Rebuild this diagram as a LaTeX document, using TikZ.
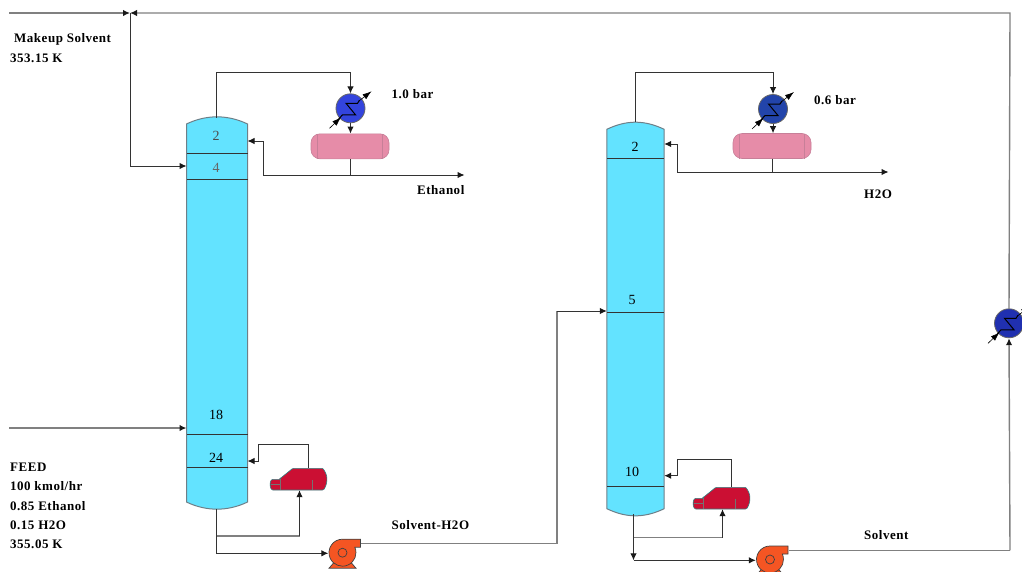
\documentclass[tikz,border=0pt]{standalone}
\usepackage{fontspec}
\setmainfont{Liberation Serif}
\usetikzlibrary{arrows.meta}
\definecolor{colcyan}{HTML}{63E3FF}
\definecolor{coledge}{HTML}{6E7F88}
\definecolor{drumpink}{HTML}{E68CA8}
\definecolor{drumedge}{HTML}{C77F98}
\definecolor{rebred}{HTML}{CB0F33}
\definecolor{pumporange}{HTML}{F55523}
\definecolor{hxblue}{HTML}{3344DD}
\definecolor{hxnavy}{HTML}{2244AA}
\definecolor{hxdeep}{HTML}{2030B0}
\tikzset{
    pipe/.style={draw=black!80, line width=1pt},
    pipegray/.style={draw=black!50, line width=1.4pt},
    tip/.style={-{Latex[length=7pt,width=6.5pt,color=black!90]}},
    colbody/.style={minimum width=#1, minimum height=10pt, inner sep=0pt},
    colshell/.style={fill=colcyan, draw=coledge, line width=1pt},
    traynum/.style={font=\fontsize{14}{14}\selectfont, inner sep=0pt},
    tag/.style={font=\bfseries\fontsize{13}{19.25}\selectfont\addfontfeature{LetterSpace=4}, align=left, anchor=west, inner sep=0pt},
    hxnode/.style={circle, draw=black!60, line width=0.8pt, minimum size=29pt, inner sep=0pt},
    drum/.style={rectangle, rounded corners=9pt, fill=drumpink, draw=drumedge, line width=0.6pt, minimum width=78pt, minimum height=25pt, inner sep=0pt},
    rebnode/.style={minimum width=58pt, minimum height=22pt, inner sep=0pt},
    pumpnode/.style={minimum width=28pt, minimum height=28pt, inner sep=0pt},
    hxmark/.pic={
        \draw[black, line width=1pt] (-12,11) -- (-8,6.5) -- (5,6.5) -- (-4.5,-5) -- (7,-5) -- (9,-8);
        \draw[black, line width=0.6pt, -{Latex[length=9pt,width=6pt]}] (-21,20) -- (-9.5,9);
        \draw[black, line width=0.6pt, -{Latex[length=9pt,width=6pt]}] (8,-7) -- (21,-17);
    },
    drummark/.pic={
        \draw[drumedge, line width=0.8pt] (-32.7,-12.5) -- (-32.7,12.5) (32.7,-12.5) -- (32.7,12.5);
    },
    rebmark/.pic={
        \draw[fill=rebred, draw=teal!60!gray, line width=0.6pt, rounded corners=1pt]
            (-19.3,-0.5) -- (-6.7,-10.7) -- (23.3,-10.7) .. controls (26,-7) and (27.5,-3) .. (27.3,0)
            .. controls (27.5,4) and (26,8) .. (24,11) -- (-27.7,11) -- (-29.3,8) -- (-29.3,3) -- (-27.7,0.3) -- (-19.3,0.3) -- cycle;
        \draw[black!55, line width=0.8pt] (-19.3,0.3) -- (-19.3,11) (-29,5.7) -- (-19.3,5.7) (13,1) -- (13,11);
    },
    pumpmark/.pic={
        \fill[pumporange, draw=black!75, line width=0.7pt] (-7,8) -- (7,8) -- (13.5,15.5) -- (-13.5,15.5) -- cycle;
        \draw[fill=pumporange, draw=black!75, line width=0.7pt]
            (0,-13.5) -- (18,-13.5) -- (18,-5.5) -- (12.3,-5.5) arc (-24:270:13.5) -- cycle;
        \draw[black!75, line width=0.7pt] (0,0) circle (4.5);
    },
}
\newcommand{\colshape}[1]{%
    \draw[colshell] (#1.north west) .. controls +(20,-9.5) and +(-20,-9.5) .. (#1.north east)
        -- (#1.south east) .. controls +(-20,9.5) and +(20,9.5) .. (#1.south west) -- cycle;
}
\begin{document}
\begin{tikzpicture}[x=1pt, y=-1pt]
    \useasboundingbox (0,0) rectangle (1022,571);
    \clip (0,0) rectangle (1022,571);

    % columns
    \node[colbody=60.6pt, minimum height=377.7pt] (col1) at (217,313) {};
    \node[colbody=57pt, minimum height=379pt] (col2) at (635.5,319) {};
    \colshape{col1}
    \colshape{col2}
    \foreach \ty in {153,179,434,467}
        \draw[pipe] (col1.west |- 0,\ty) -- (col1.east |- 0,\ty);
    \foreach \ty in {158,312,486}
        \draw[pipe] (col2.west |- 0,\ty) -- (col2.east |- 0,\ty);
    \node[traynum, text=black!70] (a2) at (216,136) {2};
    \node[traynum, text=black!60] (a4) at (216,167.5) {4};
    \node[traynum] (a18) at (216,414.5) {18};
    \node[traynum] (a24) at (216,458) {24};
    \node[traynum] (b2) at (635,147) {2};
    \node[traynum] (b5) at (632,299.5) {5};
    \node[traynum] (b10) at (632,472) {10};

    % exchangers
    \node[hxnode, fill=hxblue] (cond1) at (350.5,108.3) {};
    \node[hxnode, fill=hxnavy] (cond2) at (773,109) {};
    \node[hxnode, fill=hxdeep] (cool) at (1009,323.3) {};
    \pic at (cond1) {hxmark};
    \pic at (cond2) {hxmark};
    \pic at (cool) {hxmark};

    % drums, reboilers, pumps
    \node[drum] (drum1) at (350,146.3) {};
    \node[drum] (drum2) at (772,146) {};
    \pic at (drum1) {drummark};
    \pic at (drum2) {drummark};
    \node[rebnode] (reb1) at (299.5,479) {};
    \node[rebnode] (reb2) at (722.5,498) {};
    \pic at (reb1) {rebmark};
    \pic at (reb2) {rebmark};
    \node[pumpnode] (pump1) at (342.5,552.7) {};
    \node[pumpnode] (pump2) at (770,559.5) {};
    \pic at (pump1) {pumpmark};
    \pic at (pump2) {pumpmark};

    % junctions
    \coordinate (top1) at (216.3,117.5);
    \coordinate (top2) at (635,122);
    \coordinate (bot1) at (216.5,509.3);
    \coordinate (bot2) at (633.5,514);
    \coordinate (eth) at (263,175);
    \coordinate (ethend) at (464.5,175);
    \coordinate (wat) at (677,172);
    \coordinate (watend) at (888.5,172);
    \coordinate (makeup) at (130,13);
    \coordinate (feedin) at (9,428);
    \coordinate (makeupin) at (9,13);
    \coordinate (corner) at (1010,13);
    \coordinate (solv1) at (557,311);
    \coordinate (solv2) at (1010,550.3);

    % overheads
    \draw[pipe] (top1) |- (350.5,72) -- (350.5,85);
    \draw[pipe, tip] (350.5,80) -- (cond1.north);
    \draw[pipe, tip] (cond1.south) -- (drum1.north -| cond1.south);
    \draw[pipe] (drum1.south) -- (drum1.south |- eth);
    \draw[pipe, tip] (eth) -- (ethend);
    \draw[pipe, tip] (eth) |- (col1.east |- 0,141);
    \draw[pipe] (top2) |- (773,72) -- (773,85);
    \draw[pipe, tip] (773,80) -- (cond2.north);
    \draw[pipe, tip] (cond2.south) -- (drum2.north -| cond2.south);
    \draw[pipe] (drum2.south) -- (drum2.south |- wat);
    \draw[pipe, tip] (wat) -- (watend);
    \draw[pipe, tip] (wat) |- (col2.east |- 0,144);

    % bottoms col 1
    \draw[pipe, tip] (bot1) |- (pump1.west |- 0,553.3);
    \draw[pipegray] (bot1 |- 0,536) -- (299.5,536);
    \draw[pipe, tip] (299.5,536) -- (reb1.south);
    \draw[pipe] ([xshift=8.5pt]reb1.north) |- (258,444);
    \draw[pipe, tip] (258,444) |- (col1.east |- 0,461);

    % bottoms col 2
    \draw[pipe, tip] (bot2) -- (633.5,560.3);
    \draw[pipe, tip] (633.5,560.3) -- (pump2.west |- 0,560.3);
    \draw[pipegray] (bot2 |- 0,537.7) -- (722.5,537.7);
    \draw[pipe, tip] (722.5,537.7) -- (reb2.south);
    \draw[pipe] ([xshift=8.5pt]reb2.north) |- (677.7,459.3);
    \draw[pipe, tip] (677.7,459.3) |- (col2.east |- 0,475.7);

    % streams between units
    \draw[pipegray, tip] (feedin) -- (col1.west |- feedin);
    \draw[pipegray, tip] (makeupin) -- (makeup);
    \draw[pipegray, tip] (cool.north) -- (corner) -- (makeup);
    \draw[pipe, tip] (makeup) |- (col1.west |- 0,166);
    \draw[pipegray] (360.5,543.7) -| (solv1);
    \draw[pipe, tip] (solv1) -- (col2.west |- solv1);
    \draw[pipegray] (788.5,550.3) -- (solv2);
    \draw[pipegray, tip] (solv2) -- (cool.south);

    % labels
    \node[tag] (makeuplab) at (14,48) {Makeup Solvent\\\hspace{-4pt}353.15 K};
    \node[tag] (feedlab) at (10,506) {FEED\\100 kmol/hr\\0.85 Ethanol\\0.15 H2O\\355.05 K};
    \node[tag] (bar1) at (391.5,94) {1.0 bar};
    \node[tag] (bar2) at (814,100) {0.6 bar};
    \node[tag] (ethlab) at (417,190.5) {Ethanol};
    \node[tag] (h2olab) at (864,194.5) {H2O};
    \node[tag] (swlab) at (391.5,525.5) {Solvent-H2O};
    \node[tag] (solvlab) at (864,535) {Solvent};
\end{tikzpicture}
\end{document}
